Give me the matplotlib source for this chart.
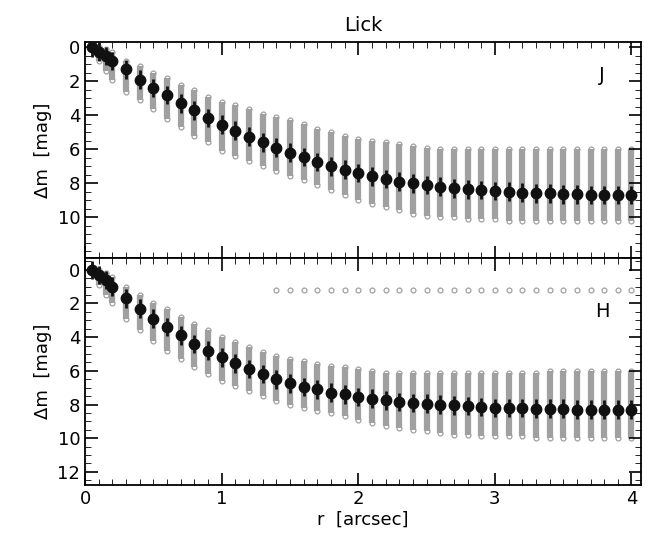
import matplotlib.pyplot as plt
import numpy as np
from matplotlib.ticker import MultipleLocator

radius = [0.05, 0.1, 0.15, 0.2] + [round(0.3 + 0.1 * i, 1) for i in range(38)]

j_med = [0.0, 0.25, 0.5, 0.8, 1.3, 1.9, 2.4, 2.8, 3.3, 3.7, 4.15, 4.55, 4.9, 5.25, 5.6, 5.9,
         6.2, 6.45, 6.75, 7.0, 7.2, 7.4, 7.6, 7.75, 7.9, 8.0, 8.1, 8.2, 8.3, 8.35, 8.4, 8.45,
         8.5, 8.55, 8.6, 8.6, 8.65, 8.65, 8.7, 8.7, 8.7, 8.7]
j_lo = [0.0, 0.0, 0.1, 0.3, 0.8, 1.1, 1.5, 1.8, 2.2, 2.5, 2.9, 3.2, 3.4, 3.6, 3.9, 4.1,
        4.3, 4.5, 4.8, 5.0, 5.2, 5.4, 5.5, 5.6, 5.7, 5.8, 5.9, 6.0, 6.0, 6.0, 6.0, 6.0,
        6.0, 6.0, 6.0, 6.0, 6.0, 6.0, 6.0, 6.0, 6.0, 6.0]
j_hi = [0.1, 0.8, 1.4, 1.9, 2.6, 3.1, 3.6, 4.2, 4.7, 5.2, 5.6, 6.1, 6.4, 6.7, 7.0, 7.3,
        7.6, 7.8, 8.1, 8.4, 8.7, 9.0, 9.2, 9.4, 9.6, 9.8, 9.9, 10.0, 10.0, 10.1, 10.1, 10.1,
        10.2, 10.2, 10.2, 10.2, 10.2, 10.2, 10.2, 10.2, 10.2, 10.2]

h_med = [0.0, 0.3, 0.6, 1.0, 1.7, 2.3, 2.9, 3.4, 3.9, 4.4, 4.8, 5.2, 5.55, 5.9, 6.2, 6.5,
         6.75, 6.95, 7.1, 7.3, 7.4, 7.55, 7.65, 7.75, 7.85, 7.9, 7.95, 8.0, 8.05, 8.1, 8.15, 8.2,
         8.2, 8.2, 8.25, 8.25, 8.25, 8.3, 8.3, 8.3, 8.3, 8.3]
h_lo = [0.0, 0.0, 0.2, 0.4, 1.0, 1.5, 2.0, 2.3, 2.8, 3.2, 3.6, 4.0, 4.3, 4.6, 4.9, 5.1,
        5.3, 5.4, 5.6, 5.7, 5.8, 5.9, 6.0, 6.1, 6.1, 6.1, 6.1, 6.1, 6.1, 6.1, 6.1, 6.1,
        6.1, 6.1, 6.1, 6.0, 6.0, 6.0, 6.0, 6.0, 6.0, 6.0]
h_hi = [0.1, 0.9, 1.5, 2.0, 2.9, 3.6, 4.2, 4.8, 5.3, 5.8, 6.2, 6.6, 6.9, 7.2, 7.5, 7.8,
        8.0, 8.2, 8.4, 8.5, 8.7, 8.9, 9.1, 9.3, 9.4, 9.5, 9.6, 9.7, 9.8, 9.8, 9.9, 9.9,
        9.9, 9.9, 10.0, 10.0, 10.0, 10.0, 10.0, 10.0, 10.0, 10.0]
h_flat_r = [round(1.4 + 0.1 * i, 1) for i in range(27)]
h_flat_m = [1.2] * 27

err = 0.55
GREY = "#a0a0a0"

fig = plt.figure(figsize=(6.65, 5.56), dpi=100)
ax1 = fig.add_axes([0.128, 0.536, 0.836, 0.388])
ax2 = fig.add_axes([0.128, 0.128, 0.836, 0.408])


def panel(ax, med, lo, hi, band, ylim):
    ax.vlines(radius, lo, hi, color=GREY, lw=4.5, zorder=1)
    ax.plot(radius, lo, "o", ms=3.5, mfc="none", mec=GREY, mew=0.9, zorder=1)
    ax.plot(radius, hi, "o", ms=3.5, mfc="none", mec=GREY, mew=0.9, zorder=1)
    ax.errorbar(radius, med, yerr=err, fmt="o", color="#111111", ms=7.5, elinewidth=2, capsize=0, zorder=3)
    ax.set_xlim(0, 4.07)
    ax.set_ylim(*ylim)
    ax.yaxis.set_major_locator(MultipleLocator(2))
    ax.yaxis.set_minor_locator(MultipleLocator(0.5))
    ax.xaxis.set_major_locator(MultipleLocator(1))
    ax.xaxis.set_minor_locator(MultipleLocator(0.1))
    ax.tick_params(which="both", direction="in", top=True, right=True, labelsize=13)
    ax.tick_params(which="major", length=9, width=1.2)
    ax.tick_params(which="minor", length=4)
    for s in ax.spines.values():
        s.set_linewidth(1.3)
    ax.set_ylabel("Δm  [mag]", fontsize=13)
    ax.text(0.93, 0.82 if band == "J" else 0.74, band, transform=ax.transAxes, fontsize=14, ha="center")


panel(ax1, j_med, j_lo, j_hi, "J", (12.4, -0.3))
ax1.set_yticks([0, 2, 4, 6, 8, 10])
ax1.tick_params(labelbottom=False)
ax1.set_title("Lick", fontsize=14, pad=8)

panel(ax2, h_med, h_lo, h_hi, "H", (12.77, -0.7))
ax2.plot(h_flat_r, h_flat_m, "o", ms=3.5, mfc="none", mec=GREY, mew=0.9)
ax2.set_yticks([0, 2, 4, 6, 8, 10, 12])
ax2.set_xlabel("r  [arcsec]", fontsize=13, labelpad=2)

fig.savefig("out.png", dpi=100)
